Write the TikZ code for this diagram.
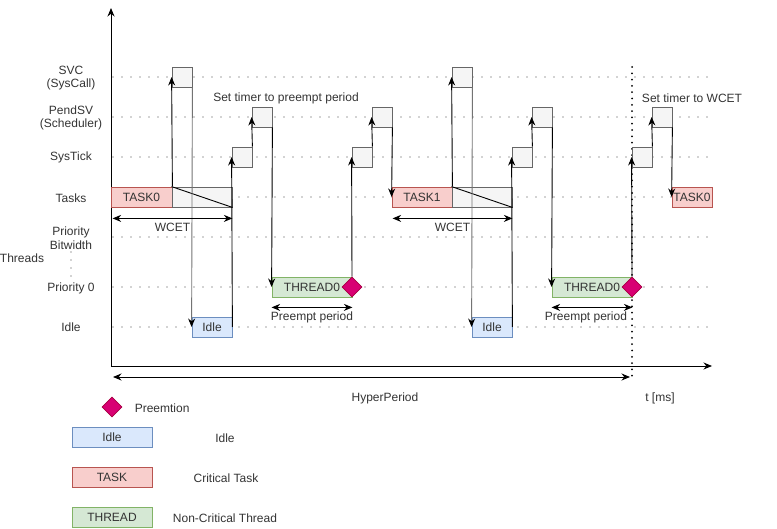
\documentclass[tikz,border=0pt]{standalone}
\usepackage{fontspec}
\setmainfont{Liberation Sans}
\usetikzlibrary{arrows.meta,shapes.geometric}

\definecolor{txt}{HTML}{333333}
\definecolor{taskfill}{HTML}{F8CECC}
\definecolor{taskline}{HTML}{B85450}
\definecolor{idlefill}{HTML}{DAE8FC}
\definecolor{idleline}{HTML}{6C8EBF}
\definecolor{threadfill}{HTML}{D5E8D4}
\definecolor{threadline}{HTML}{82B366}
\definecolor{isrfill}{HTML}{F5F5F5}
\definecolor{isrline}{HTML}{666666}
\definecolor{prefill}{HTML}{D80073}
\definecolor{preline}{HTML}{A50040}

\tikzset{
  every node/.style={font=\fontsize{12}{13.5}\selectfont, text=txt},
  box/.style={draw, minimum height=20pt, inner sep=0pt, line width=0.8pt},
  taskbox/.style={box, draw=taskline, fill=taskfill},
  idlebox/.style={box, draw=idleline, fill=idlefill},
  threadbox/.style={box, draw=threadline, fill=threadfill},
  isrbox/.style={box, draw=isrline, fill=isrfill, minimum width=20pt},
  waitbox/.style={box, draw=isrline, fill=isrfill, minimum width=60pt},
  preempt/.style={diamond, draw=preline, fill=prefill, minimum width=20pt,
    minimum height=20pt, inner sep=0pt, line width=0.8pt},
  gridline/.style={draw=black!35, line width=1.8pt, line cap=round,
    dash pattern=on 0pt off 9pt},
  hyperline/.style={draw=black, line width=2pt, line cap=round,
    dash pattern=on 0pt off 6.3pt},
  flow/.style={->, draw=black},
  dimline/.style={<->, draw=black}
}

\begin{document}
\begin{tikzpicture}[x=1pt, y=-1pt, >={Stealth[length=8.5pt,width=7pt]}, line width=0.9pt]
  \useasboundingbox (0,0) rectangle (777,529);

  % lignes de niveau
  \foreach \y in {77,117,157,197,237,287,327}
    \draw[gridline] (113,\y) -- (710,\y);
  \draw[hyperline] (632,67) -- (632,380);

  % axes
  \coordinate (origin) at (111,366);
  \coordinate (ytop) at (111,8);
  \coordinate (tend) at (712,366);
  \draw[->] (origin) -- (ytop);
  \draw[->] (origin) -- (tend);

  % etiquettes des niveaux
  \foreach \y/\txt in {78/{SVC\\(SysCall)}, 118/{PendSV\\(Scheduler)}, 157/SysTick,
                       198/Tasks, 238/{Priority\\Bitwidth}, 288/Priority 0, 327/Idle}
    \node[align=center, inner sep=0pt] at (71,\y) {\txt};
  \foreach \y in {252,260,268,276}
    \fill[black!35] (71,\y) circle (0.9pt);
  \node[inner sep=0pt] (threads) at (22,258) {Threads};

  % premiere periode
  \node[taskbox, minimum width=61pt] (task0) at (141.5,197) {TASK0};
  \node[waitbox] (wait0) at (202,197) {};
  \draw[black] (wait0.north west) -- (wait0.south east);
  \node[isrbox] (svc0) at (182,77) {};
  \node[idlebox, minimum width=40pt] (idle0) at (212,327) {Idle};
  \node[isrbox] (tick0) at (242,157) {};
  \node[isrbox] (pend0) at (262,117) {};
  \node[threadbox, minimum width=80pt] (thread0) at (312,287) {THREAD0};
  \node[preempt] (pre0) at (352,287) {};
  \node[isrbox] (tick1) at (362,157) {};
  \node[isrbox] (pend1) at (382,117) {};

  % deuxieme periode
  \node[taskbox, minimum width=60pt] (task1) at (422,197) {TASK1};
  \node[waitbox] (wait1) at (482,197) {};
  \draw[black] (wait1.north west) -- (wait1.south east);
  \node[isrbox] (svc1) at (462,77) {};
  \node[idlebox, minimum width=40pt] (idle1) at (492,327) {Idle};
  \node[isrbox] (tick2) at (522,157) {};
  \node[isrbox] (pend2) at (542,117) {};
  \node[threadbox, minimum width=80pt] (thread1) at (592,287) {THREAD0};
  \node[isrbox] (tick3) at (642,157) {};
  \node[isrbox] (pend3) at (662,117) {};
  \node[taskbox, minimum width=40pt] (task2) at (692,197) {TASK0};

  % enchainement
  \draw[flow] (task0.north east) -- (svc0.west);
  \draw[flow, draw=black!55, -{Stealth[length=8.5pt,width=7pt,color=black]}] (svc0.south east) -- (idle0.west);
  \draw[flow] (idle0.east) -- (tick0.west);
  \draw[flow] (tick0.north east) -- (pend0.west);
  \draw[flow] (pend0.south east) -- (thread0.west);
  \draw[flow] (pre0.north) -- (tick1.west);
  \draw[flow] (tick1.north east) -- (pend1.west);
  \draw[flow] (pend1.south east) -- (task1.west);
  \draw[flow] (task1.north east) -- (svc1.west);
  \draw[flow, draw=black!55, -{Stealth[length=8.5pt,width=7pt,color=black]}] (svc1.south east) -- (idle1.west);
  \draw[flow] (idle1.east) -- (tick2.west);
  \draw[flow] (tick2.north east) -- (pend2.west);
  \draw[flow] (pend2.south east) -- (thread1.west);
  \node[preempt] (pre1) at (632,287) {};
  \draw[flow] (pre1.north) -- (tick3.west);
  \draw[flow] (tick3.north east) -- (pend3.west);
  \draw[flow] (pend3.south east) -- (task2.west);

  % cotes
  \draw[dimline] ([shift={(2pt,-11pt)}]task0.south west) -- ([yshift=-11pt]wait0.south east)
    node[midway, below=1pt] (wcet0) {WCET};
  \draw[dimline] ([shift={(1pt,-11pt)}]task1.south west) -- ([yshift=-11pt]wait1.south east)
    node[midway, below=1pt] (wcet1) {WCET};
  \draw[dimline] ([yshift=-10pt]thread0.south west) -- ([yshift=-10pt]thread0.south east)
    node[midway, below=1pt] (pp0) {Preempt period};
  \draw[dimline] ([yshift=-10pt]thread1.south west) -- ([yshift=-10pt]thread1.south east)
    node[midway, below=1pt, xshift=-6pt] (pp1) {Preempt period};
  \coordinate (hpstart) at (113,377);
  \coordinate (hpend) at (630,377);
  \draw[dimline] (hpstart) -- (hpend);
  \node (hp) at (385,398) {HyperPeriod};
  \node (tlabel) at (660,398) {t [ms]};
  \node (timer0) at (286,98) {Set timer to preempt period};
  \node (timer1) at (692,98) {Set timer to WCET};

  % legende
  \node[preempt] (legpre) at (112,407) {};
  \node[anchor=west] (legpretxt) at (131,408) {Preemtion};
  \node[idlebox, minimum width=80pt] (legidle) at (112,437) {Idle};
  \node (legidletxt) at (225,438) {Idle};
  \node[taskbox, minimum width=80pt] (legtask) at (112,477) {TASK};
  \node (legtasktxt) at (226,478) {Critical Task};
  \node[threadbox, minimum width=80pt] (legthread) at (112,517) {THREAD};
  \node (legthreadtxt) at (225,518) {Non-Critical Thread};
\end{tikzpicture}
\end{document}
